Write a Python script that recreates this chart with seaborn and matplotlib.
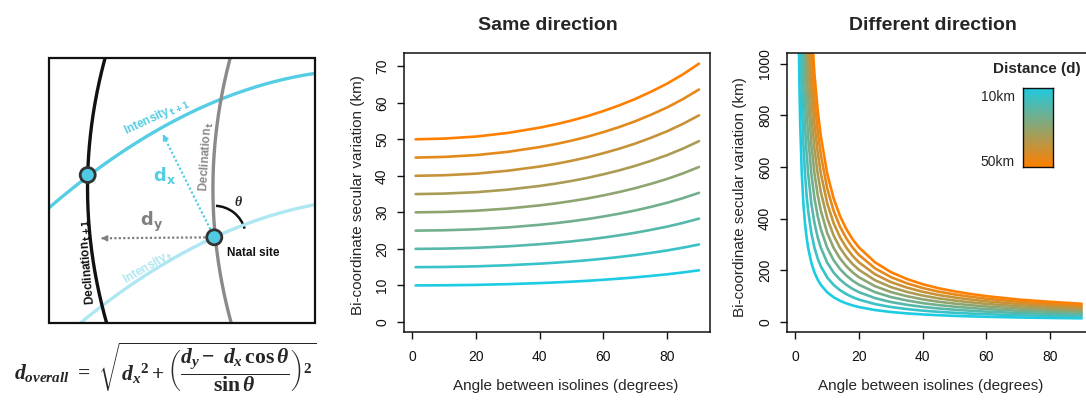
import numpy as np
import pandas as pd
import matplotlib
matplotlib.use("Agg")
import matplotlib.pyplot as plt
import seaborn as sns
from matplotlib.patches import Rectangle, Circle, Arc

# distance between isolines (km), one line per value
distances = [10, 15, 20, 25, 30, 35, 40, 45, 50]

# "Same direction": km of variation per km of distance
same_angles = [1, 10, 20, 30, 40, 45, 50, 55, 60, 65, 70, 75, 80, 85, 90]
same_per_km = [1.000, 1.004, 1.015, 1.035, 1.064, 1.082, 1.103, 1.127,
               1.155, 1.186, 1.221, 1.261, 1.305, 1.356, 1.414]

# "Different direction": same idea, steep near 0 degrees
diff_angles = [1, 1.25, 1.5, 2, 2.5, 3, 3.5, 4, 5, 6, 7, 8, 10, 12, 14, 16, 18,
               20, 25, 30, 35, 40, 45, 50, 55, 60, 70, 80, 90]
diff_per_km = [114.59, 91.67, 76.39, 57.30, 45.84, 38.20, 32.75, 28.65, 22.93,
               19.11, 16.38, 14.34, 11.47, 9.57, 8.21, 7.19, 6.39, 5.76, 4.62,
               3.86, 3.33, 2.92, 2.61, 2.37, 2.17, 2.00, 1.74, 1.56, 1.41]

CYAN = "#1DCBE3"
ORANGE = "#FF8000"


def long_table(angles, per_km):
    rows = []
    for d in distances:
        for a, r in zip(angles, per_km):
            rows.append({"angle": a, "km": d * r, "distance": d})
    return pd.DataFrame(rows)


same_df = long_table(same_angles, same_per_km)
diff_df = long_table(diff_angles, diff_per_km)

sns.set_theme(style="ticks")
plt.rcParams["font.family"] = ["Liberation Sans", "DejaVu Sans"]
plt.rcParams["mathtext.fontset"] = "custom"
plt.rcParams["mathtext.it"] = "Liberation Serif:italic:bold"
plt.rcParams["mathtext.rm"] = "Liberation Serif:bold"
plt.rcParams["mathtext.bf"] = "Liberation Serif:bold"

pal = sns.blend_palette([CYAN, ORANGE], n_colors=len(distances))
pal_map = dict(zip(distances, pal))
cmap = sns.blend_palette([CYAN, ORANGE], as_cmap=True)

W, H = 1086, 401
fig = plt.figure(figsize=(W / 100, H / 100), dpi=100)


def axes_px(l, t, r, b):
    return fig.add_axes([l / W, 1 - b / H, (r - l) / W, (b - t) / H])


def text_px(x, y, s, **kw):
    fig.text(x / W, 1 - y / H, s, **kw)


# ---------- schematic ----------
ax0 = axes_px(0, 0, 340, 401)
ax0.set_xlim(0, 340)
ax0.set_ylim(401, 0)
ax0.axis("off")

box = Rectangle((49, 58.3), 266, 265, fill=False, lw=1.6, ec="#111111", zorder=6)
ax0.add_patch(box)

yy = np.linspace(40, 340, 200)
xx = np.linspace(20, 340, 200)
c_black = np.polyfit([58.3, 175, 323.3], [105, 87.7, 106.7], 2)
c_grey = np.polyfit([58.3, 99.3, 237.3, 323.3], [229, 222.7, 214.3, 231.7], 2)
c_int1 = np.polyfit([50, 87.7, 222.7, 313.3], [208, 175, 99.3, 73.3], 2)
c_int0 = np.polyfit([80, 214.3, 313.3], [323.3, 237.3, 205], 2)

curves = [
    (xx, np.polyval(c_int0, xx), "#AEE7F1"),
    (xx, np.polyval(c_int1, xx), "#55CDE3"),
    (np.polyval(c_grey, yy), yy, "#8A8A8A"),
    (np.polyval(c_black, yy), yy, "#111111"),
]
for cx, cy, col in curves:
    ln, = ax0.plot(cx, cy, color=col, lw=2.4, solid_capstyle="butt")
    ln.set_clip_path(box)

natal = (214.3, 237.3)
other = (87.7, 175)
ax0.plot([natal[0], 163.5], [natal[1], 135.5], color="#55CDE3", lw=1.6, ls=(0, (1, 1)))
ax0.annotate("", xy=(161.7, 131.7), xytext=(165, 138.5),
             arrowprops=dict(arrowstyle="-|>", color="#55CDE3", lw=1, mutation_scale=9))
ax0.plot([natal[0], 102], [natal[1], 238.3], color="#808080", lw=1.6, ls=(0, (1, 1)))
ax0.annotate("", xy=(98.3, 238.3), xytext=(106, 238.3),
             arrowprops=dict(arrowstyle="-|>", color="#808080", lw=1, mutation_scale=9))

ax0.add_patch(Arc(natal, 63, 63, theta1=-87, theta2=-16, color="#111111", lw=1.8))
for c in (natal, other):
    ax0.add_patch(Circle(c, 7.5, fc="#4FCAE2", ec="#333333", lw=2, zorder=7))

ax0.text(165, 175, r"$\mathbf{d}_\mathbf{x}$", color="#55CDE3", fontsize=13,
         ha="center", va="center", math_fontfamily="dejavusans")
ax0.text(151.7, 222, r"$\mathbf{d}_\mathbf{y}$", color="#808080", fontsize=13,
         ha="center", va="center", math_fontfamily="dejavusans")
ax0.text(238.3, 201.7, r"$\theta$", fontsize=10, ha="center", va="center")
ax0.text(227.3, 253.3, "Natal site", fontsize=8.5, fontweight="bold",
         ha="left", va="center", color="#111111")

sub_kw = dict(fontsize=8.5, fontweight="bold", ha="center", va="center",
              rotation_mode="anchor", math_fontfamily="dejavusans")
ax0.text(156.7, 116.7, r"Intensity$_{\mathbf{\,t+1}}$", color="#55CDE3", rotation=25, **sub_kw)
ax0.text(148.3, 266.7, r"Intensity$_{\mathbf{\,t}}$", color="#AEE7F1", rotation=30, **sub_kw)
ax0.text(206.7, 156.7, r"Declination$_{\mathbf{\,t}}$", color="#8A8A8A", rotation=86.5, **sub_kw)
ax0.text(87.3, 261.7, r"Declination$_{\mathbf{\,t+1}}$", color="#111111", rotation=95, **sub_kw)

ax0.text(14, 367,
         r"$d_{overall}\ =\ \sqrt{d_x{}^2 + \left(\dfrac{d_y -\ d_x\,\cos\theta}{\sin\theta}\right)^2}$",
         fontsize=15.6, ha="left", va="center", math_fontfamily="custom")

# ---------- line panels ----------
ax1 = axes_px(404.3, 53.3, 710.3, 332.3)
ax2 = axes_px(787.3, 53.3, 1093, 332.3)

for ax, df in ((ax1, same_df), (ax2, diff_df)):
    sns.lineplot(data=df, x="angle", y="km", hue="distance", palette=pal_map,
                 legend=False, ax=ax, linewidth=1.9)
    ax.set_xlim(-2.56, 93.56)
    ax.set_xticks([0, 20, 40, 60, 80])
    ax.set_xlabel("")
    ax.set_ylabel("")
    for s in ax.spines.values():
        s.set_linewidth(1.1)
        s.set_color("#111111")
    ax.tick_params(axis="both", length=5, width=1, labelsize=10, colors="#111111")
    ax.tick_params(axis="x", pad=8)
    ax.tick_params(axis="y", pad=6, labelrotation=90)

ax1.set_ylim(-2.83, 73.54)
ax1.set_yticks(range(0, 71, 10))
ax2.set_ylim(-40, 1040)
ax2.set_yticks(range(0, 1001, 200))
for ax in (ax1, ax2):
    for lab in ax.get_yticklabels():
        lab.set_va("center")

ylab = "Bi-coordinate secular variation (km)"
xlab = "Angle between isolines (degrees)"
text_px(548, 25, "Same direction", fontsize=14, fontweight="bold", ha="center", va="center")
text_px(932.5, 25, "Different direction", fontsize=14, fontweight="bold", ha="center", va="center")
text_px(566, 385.7, xlab, fontsize=11, ha="center", va="center")
text_px(931, 385.7, xlab, fontsize=11, ha="center", va="center")
text_px(358, 195, ylab, fontsize=11, rotation=90, ha="center", va="center")
text_px(740, 197, ylab, fontsize=11, rotation=90, ha="center", va="center")

# colour key
cax = axes_px(1023.3, 88.3, 1053.3, 167.3)
cax.imshow(np.linspace(0, 1, 256)[:, None], aspect="auto", cmap=cmap)
cax.set_xticks([])
cax.set_yticks([])
for s in cax.spines.values():
    s.set_linewidth(1)
    s.set_color("#111111")
text_px(1037, 69.3, "Distance (d)", fontsize=11, fontweight="bold", ha="center", va="center")
text_px(1015, 96.7, "10km", fontsize=10, ha="right", va="center")
text_px(1015, 161.7, "50km", fontsize=10, ha="right", va="center")

fig.savefig("out.png", dpi=100)
